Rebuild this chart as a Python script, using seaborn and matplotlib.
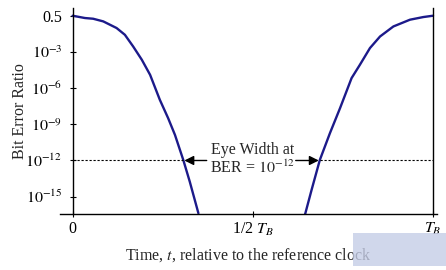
import matplotlib
matplotlib.use("Agg")
import matplotlib.pyplot as plt
import seaborn as sns
import pandas as pd
from matplotlib.patches import Rectangle

# ---- data ----
# time in units of T_B, BER as log10 exponent
left_t = [0.000, 0.034, 0.057, 0.085, 0.122, 0.145, 0.168, 0.192, 0.215,
          0.242, 0.265, 0.284, 0.307, 0.325, 0.349]
left_logber = [0.00, -0.19, -0.25, -0.47, -1.02, -1.58, -2.55, -3.65, -4.90,
               -6.97, -8.49, -9.88, -11.95, -13.75, -16.37]
right_t = [0.645, 0.663, 0.686, 0.714, 0.742, 0.774, 0.797, 0.825, 0.853,
           0.890, 0.936, 0.973, 1.000]
right_logber = [-16.46, -14.44, -11.95, -9.73, -7.66, -5.17, -4.07, -2.68,
                -1.72, -0.89, -0.33, -0.11, 0.00]

y_ticks = [0, -3, -6, -9, -12, -15]
y_ticklabels = ["0.5", r"$10^{-3}$", r"$10^{-6}$", r"$10^{-9}$", r"$10^{-12}$", r"$10^{-15}$"]
x_ticks = [0, 0.5, 1]
x_ticklabels = ["0", r"1/2 $T_B$", r"$T_B$"]

ber_level = -12
eye_left = 0.307
eye_right = 0.686

sns.set_theme(style="white")
plt.rcParams["font.family"] = ["Liberation Serif", "DejaVu Serif"]
plt.rcParams["mathtext.fontset"] = "stix"

FS = 11.5

fig = plt.figure(figsize=(4.46, 2.70), dpi=100)
ax = fig.add_axes([60 / 446, 1 - 214.3 / 270, (437 - 60) / 446, (214.3 - 8) / 270])

curve_color = "#1c1a8a"
df_l = pd.DataFrame({"t": left_t, "b": left_logber})
df_r = pd.DataFrame({"t": right_t, "b": right_logber})
sns.lineplot(data=df_l, x="t", y="b", ax=ax, color=curve_color, lw=1.7, sort=False)
sns.lineplot(data=df_r, x="t", y="b", ax=ax, color=curve_color, lw=1.7, sort=False)

# dotted BER target line
ax.plot([0, eye_left], [ber_level, ber_level], color="black", lw=0.8, ls=(0, (2, 1.6)))
ax.plot([eye_right, 1], [ber_level, ber_level], color="black", lw=0.8, ls=(0, (2, 1.6)))

ax.set_xlim(-0.035, 1.011)
ax.set_ylim(-16.46, 0.64)

ax.spines["top"].set_visible(False)
ax.spines["left"].set_position(("data", 0))
ax.spines["right"].set_position(("data", 1))
for s in ["left", "right", "bottom"]:
    ax.spines[s].set_color("black")
    ax.spines[s].set_linewidth(1.0)

ax.set_yticks(y_ticks)
ax.set_yticklabels(y_ticklabels)
ax.set_xticks(x_ticks)
ax.set_xticklabels(x_ticklabels)
ax.tick_params(axis="both", direction="inout", length=5, width=0.8, color="black",
               labelsize=FS, labelcolor="black", pad=2)
ax.tick_params(axis="y", pad=5)
ax.tick_params(left=True, bottom=True)

ax.set_xlabel("Time, $t$, relative to the reference clock", fontsize=FS, labelpad=6)
ax.set_ylabel("Bit Error Ratio", fontsize=FS)
ax.yaxis.set_label_coords(-0.085, 0.5)
ax.xaxis.set_label_coords(0.5, -0.155)

# annotation
ax.text(0.5, -11.15, "Eye Width at", ha="center", va="center", fontsize=FS)
ax.text(0.5, -12.65, r"BER = $10^{-12}$", ha="center", va="center", fontsize=FS)
ax.annotate("", xy=(eye_left + 0.003, ber_level), xytext=(0.372, ber_level),
            arrowprops=dict(arrowstyle="-|>", color="black", lw=1.0, mutation_scale=14,
                            shrinkA=0, shrinkB=0))
ax.annotate("", xy=(eye_right - 0.003, ber_level), xytext=(0.619, ber_level),
            arrowprops=dict(arrowstyle="-|>", color="black", lw=1.0, mutation_scale=14,
                            shrinkA=0, shrinkB=0))

# faint watermark patch (bottom right)
fig.patches.append(Rectangle((353 / 446, 1 - 266 / 270), 93 / 446, 33 / 270,
                             transform=fig.transFigure, facecolor="#c5cde6",
                             edgecolor="none", alpha=0.8, zorder=0))

fig.savefig("out.png", dpi=100)
